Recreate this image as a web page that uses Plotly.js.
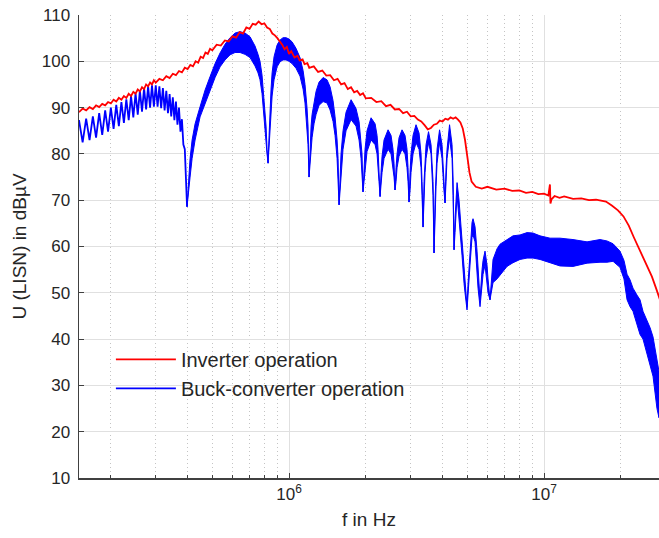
<!DOCTYPE html>
<html>
<head>
<meta charset="utf-8">
<script src="https://cdn.plot.ly/plotly-3.0.1.min.js"></script>
<style>
html,body{margin:0;padding:0;background:#fff;}
#chart{width:659px;height:538px;}
</style>
</head>
<body>
<div id="chart"></div>
<script>
// ---- Buck-converter operation: low-frequency ripple region (f in MHz, U in dBuV)
const fBuckLF = [0.15,0.155,0.16,0.165,0.17,0.175,0.18,0.185,0.19,0.195,0.2,0.205,0.21,0.215,0.22,0.225,0.23,0.235,0.24,0.245,0.25,0.255,0.26,0.265,0.27,0.275,0.28,0.285,0.29,0.295,0.3,0.305,0.31,0.315,0.32,0.325,0.33,0.335,0.34,0.345,0.35,0.355,0.36,0.365,0.37,0.375,0.38,0.385,0.39,0.395,0.398];
const uBuckLF = [87.3,82.5,87.6,83.0,88.1,83.5,88.8,84.1,89.4,84.8,90.0,85.4,90.6,86.0,91.2,86.7,91.8,87.3,92.5,87.9,93.1,88.5,93.7,89.1,94.2,89.6,94.6,90.0,94.8,90.2,94.8,90.2,94.6,89.9,94.2,89.4,93.6,88.8,92.9,88.1,92.2,87.3,91.3,86.3,90.0,84.8,87.5,82.0,81.0,72.5,68.6];

// ---- Buck-converter operation: dense band (upper / lower envelope), f in MHz
const fBand = [0.398,0.4017,0.409,0.4166,0.428,0.4477,0.4685,0.490,0.5127,0.5363,0.561,0.5869,0.614,0.6423,0.672,0.703,0.7354,0.7556,0.7694,0.7835,0.798,0.805,0.8125,0.8198,0.8273,0.835,0.8424,0.850,0.858,0.8733,0.8974,0.922,0.9473,0.973,1.0,1.0275,1.065,1.104,1.135,1.155,1.176,1.187,1.198,1.209,1.220,1.231,1.253,1.276,1.311,1.360,1.409,1.448,1.488,1.515,1.543,1.557,1.571,1.585,1.599,1.628,1.673,1.751,1.831,1.882,1.916,1.933,1.950,1.968,1.986,2.022,2.097,2.175,2.214,2.234,2.254,2.275,2.295,2.316,2.358,2.445,2.512,2.557,2.581,2.604,2.628,2.652,2.700,2.774,2.850,2.902,2.929,2.955,2.982,3.009,3.064,3.148,3.235,3.294,3.324,3.354,3.384,3.415,3.446,3.524,3.605,3.671,3.704,3.738,3.772,3.806,3.893,3.981,4.053,4.091,4.128,4.166,4.261,4.358,4.398,4.438,4.477,4.560,4.642,4.685,4.770,4.857,4.900,4.989,5.035,5.126,5.220,5.267,5.363,5.462,5.511,5.611,5.714,5.766,5.870,5.977,6.031,6.140,6.310,6.543,6.722,7.160,7.557,8.054,8.579,9.056,9.645,10.56,11.55,12.99,14.75,16.58,17.66,18.65,19.86,20.59,21.17,21.75,22.34,23.16,23.80,24.45,25.35,26.05,26.76,27.74,28.25];
const uBandUpper = [68.6,72,79,83,86.5,90.2,93.8,96.7,99.5,101.8,103.7,105.1,106.1,106.4,106.1,105.3,103.3,101.5,100,97,92,90,86,81,78,84,90,94,97.5,101,103.5,104.6,105.1,105.1,104.8,104.2,102.8,100.8,98,95,90,86,75,82,86,88.5,91.5,93.5,95.5,96.5,96,94.5,91.5,88,83,79,69,75,80,85,89,91.7,89.8,87,83,80,71.8,77,81,85,87.8,86.5,84,81,77,70.8,76,79.5,83,85.2,84,81,78,72.2,77,80,83.5,85.2,84,81,77,69.6,76,80,84,86.3,84.5,80,74,64.2,74,79,82,84.8,82,74,58.6,70,77,81,85.2,82,74,69.4,77,81,86.3,82,75,59.3,66,73.8,70,67,61.5,56,54,47,52,60,65.2,66,64.3,59,55,48.5,55,57,59,56,53,48.5,57.2,59.5,60.5,61.5,62.3,62.5,63,62.9,62.3,61.8,61.8,61.5,61,61.5,61.2,60.6,59,57,54,52.8,51,49.5,48.5,46,44,42.5,40.5,35,33];
const uBandLower = [68.6,70,75,79,83,88,91,93.8,96.5,98.8,100.3,101.4,101.9,101.9,101.5,100.8,99,97.5,96,93,88,86,83,80,78,80,85,89,92.5,96,98.8,99.9,100.3,100.3,100,99.5,98.5,96.8,94,91,86,82,75,78,81,83.5,86.5,88.5,90.5,91.3,91,89.5,87,84,79,76,69,72,76,81,85,87.4,86,83,79,76,71.8,74,77,80.5,83,82,80,77,74,70.8,73,76,79,81,80,77,75,72.2,74,77,79.5,81,80,77,74,69.6,72,76,80,82.4,81,77,71,64.2,70,76,79,82.4,80,71,58.6,66,73,78,82.5,79,72,69.4,74,79,83.5,79,71,59.3,63,71,67,64,58,52,50,46.3,49,56,62,62.5,61,55,51,47,51,54,56,52,50,48.5,52.2,53,53.8,55.7,56.5,57.2,57.5,57.5,57.2,56.5,55.8,55.7,56.4,56.6,56.6,56.8,55.5,53,48.5,47,46,43,41,40,37,34.5,32,25,23];

// ---- Inverter operation, f in MHz
const fInv = [0.15,0.155,0.16,0.165,0.17,0.175,0.18,0.185,0.19,0.195,0.2,0.205,0.21,0.215,0.22,0.225,0.23,0.235,0.24,0.245,0.25,0.255,0.26,0.265,0.27,0.275,0.28,0.285,0.29,0.295,0.3,0.31,0.32,0.33,0.34,0.35,0.36,0.37,0.38,0.39,0.4,0.41,0.42,0.43,0.44,0.45,0.46,0.47,0.48,0.49,0.5,0.52,0.54,0.56,0.58,0.6,0.62,0.64,0.66,0.68,0.7,0.72,0.74,0.76,0.78,0.8,0.82,0.84,0.86,0.88,0.9,0.92,0.94,0.96,0.98,1.0,1.02,1.05,1.08,1.1,1.13,1.15,1.18,1.2,1.25,1.3,1.35,1.4,1.45,1.5,1.55,1.6,1.65,1.7,1.75,1.8,1.85,1.9,1.95,2.0,2.1,2.2,2.3,2.4,2.5,2.6,2.7,2.8,2.9,3.0,3.1,3.2,3.3,3.4,3.5,3.6,3.7,3.8,3.9,4.0,4.1,4.2,4.3,4.4,4.5,4.6,4.7,4.8,4.9,5.0,5.1,5.2,5.4,5.7,6.0,6.5,7.0,7.5,8.0,8.5,9.0,9.5,10.0,10.4,10.5,10.55,10.6,10.7,11.0,11.5,12.0,13.0,14.0,15.0,16.0,17.5,18.5,19.5,20.5,21.5,22.5,23.5,24.5,25.5,26.5,27.5,28.5];
const uInv = [89.0,89.8,89.4,90.1,89.7,90.5,90.1,90.8,90.5,91.2,90.9,91.7,91.3,92.1,91.7,92.5,92.1,93.0,92.5,93.4,93.0,93.9,93.5,94.4,94.0,95.0,94.6,95.4,95.0,95.9,95.4,96.2,95.9,96.8,96.4,97.3,97.0,97.9,97.6,98.6,98.3,99.2,98.9,100.0,99.7,101.0,100.7,101.9,101.6,102.7,102.4,103.6,103.4,104.5,104.3,105.4,105.1,106.3,106.0,107.3,107.0,108.1,107.9,108.6,108.0,108.2,107.3,107.0,106.0,105.6,105.0,104.4,103.6,102.6,103.1,101.6,102.2,100.8,101.2,100.2,100.4,99.4,99.6,98.6,98.9,97.7,98.0,96.9,97.0,95.9,96.2,95.0,95.3,94.0,94.4,93.3,93.6,92.7,93.1,92.0,92.1,91.2,91.4,90.3,90.6,89.6,89.7,88.8,89.1,88.1,88.2,87.4,87.0,86.2,85.3,85.6,86.3,86.5,87.2,87.0,87.6,87.4,87.9,87.6,87.9,87.4,86.8,85.5,83.0,79.5,76.0,74.0,72.9,72.5,72.9,72.3,72.5,72.0,72.1,71.6,71.8,71.3,71.4,71.0,72.8,73.4,69.3,70.2,70.9,70.5,70.8,70.3,70.4,70.0,70.1,69.7,68.8,67.8,66.5,64.5,62.0,59.8,57.5,55.5,53.5,51.0,48.5];

// ---- axis ticks
const xTickVals = [1e6, 1e7];
const xTickText = ['10<sup>6</sup>', '10<sup>7</sup>'];
const xMinorVals = [2e5,3e5,4e5,5e5,6e5,7e5,8e5,9e5,2e6,3e6,4e6,5e6,6e6,7e6,8e6,9e6,2e7];
const yTickVals = [10,20,30,40,50,60,70,80,90,100,110];

const MHz = 1e6;
const toHz = a => a.map(v => v * MHz);

const bandX = toHz(fBand).concat(toHz(fBand).reverse());
const bandY = uBandUpper.concat(uBandLower.slice().reverse());

const BLUE = '#0000ff', RED = '#ff0000';
const FONT = 'Liberation Sans, Arial, Helvetica, sans-serif';
const TXT = '#262626';

const traces = [
  {x: bandX, y: bandY, type: 'scatter', mode: 'lines', fill: 'toself',
   fillcolor: BLUE, line: {color: BLUE, width: 1}, showlegend: false, hoverinfo: 'skip'},
  {x: toHz(fBuckLF), y: uBuckLF, type: 'scatter', mode: 'lines',
   line: {color: BLUE, width: 1.8}, name: 'Buck-converter operation', legendrank: 2},
  {x: toHz(fInv), y: uInv, type: 'scatter', mode: 'lines',
   line: {color: RED, width: 1.8}, name: 'Inverter operation', legendrank: 1}
];

const layout = {
  width: 659, height: 538,
  margin: {l: 79, r: 0, t: 15, b: 60},
  paper_bgcolor: '#fff', plot_bgcolor: '#fff',
  font: {family: FONT, color: TXT, size: 17},
  xaxis: {
    type: 'log', range: [Math.log10(1.5e5), Math.log10(2.825e7)],
    tickmode: 'array', tickvals: xTickVals, ticktext: xTickText,
    ticks: 'inside', ticklen: 5, tickcolor: '#404040', tickwidth: 1,
    showline: true, linecolor: '#404040', linewidth: 1.5, mirror: false,
    showgrid: true, gridcolor: '#e0e0e0', gridwidth: 1,
    zeroline: false, tickfont: {size: 17, color: TXT, family: FONT},
    minor: {tickmode: 'array', tickvals: xMinorVals, ticks: 'inside', ticklen: 3,
            tickcolor: '#404040', showgrid: true, gridcolor: '#c4c4c4', griddash: '1px,3px', gridwidth: 1},
    title: {text: 'f in Hz', font: {size: 19, color: TXT, family: FONT}, standoff: 10}
  },
  yaxis: {
    range: [10, 110], tickmode: 'array', tickvals: yTickVals,
    ticks: 'inside', ticklen: 5, tickcolor: '#404040',
    showline: true, linecolor: '#404040', linewidth: 1.5, mirror: false,
    showgrid: true, gridcolor: '#e0e0e0', gridwidth: 1, zeroline: false,
    tickfont: {size: 17, color: TXT, family: FONT}, ticklabelstandoff: 4,
    title: {text: 'U (LISN) in dBµV', font: {size: 19, color: TXT, family: FONT}, standoff: 10}
  },
  legend: {
    x: 0.055, y: 0.225, xanchor: 'left', yanchor: 'middle',
    bgcolor: 'rgba(0,0,0,0)', borderwidth: 0, itemwidth: 60,
    font: {size: 20, color: TXT, family: FONT}
  },
  showlegend: true
};

Plotly.newPlot('chart', traces, layout, {displayModeBar: false, staticPlot: true});
</script>
</body>
</html>
